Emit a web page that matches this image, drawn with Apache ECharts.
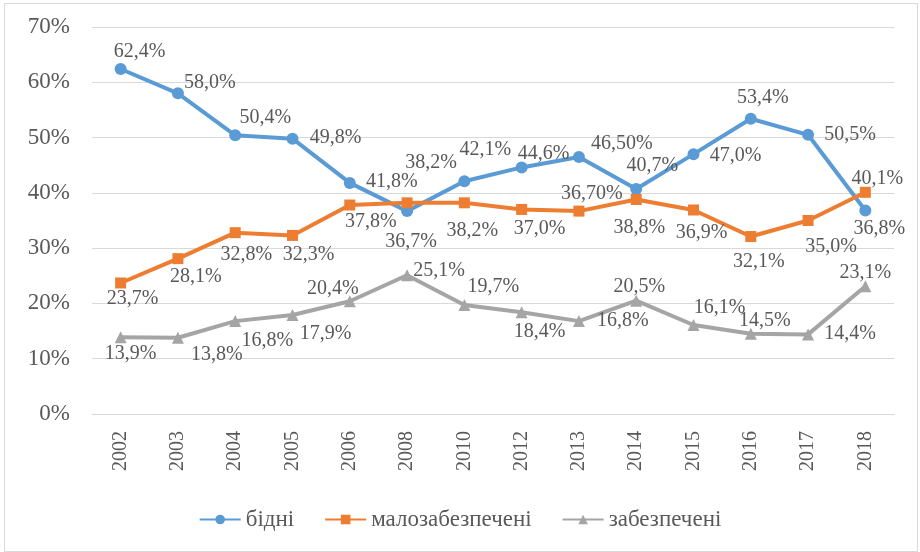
<!DOCTYPE html>
<html>
<head>
<meta charset="utf-8">
<script src="https://cdn.jsdelivr.net/npm/echarts@6/dist/echarts.min.js"></script>
<style>
  html, body { margin: 0; padding: 0; background: #fff; }
  #wrap { position: relative; width: 920px; height: 552px; }
  #chart { width: 920px; height: 552px; }
  #frame { position: absolute; left: 4px; top: 3px; width: 912px; height: 547px; border: 1px solid #d9d9d9; pointer-events: none; }
</style>
</head>
<body>
<div id="wrap">
  <div id="chart"></div>
  <div id="frame"></div>
</div>
<script>
// роки
var years = ['2002', '2003', '2004', '2005', '2006', '2008', '2010', '2012', '2013', '2014', '2015', '2016', '2017', '2018']

// частки, %
var poor = [62.4, 58.0, 50.4, 49.8, 41.8, 36.7, 42.1, 44.6, 46.5, 40.7, 47.0, 53.4, 50.5, 36.8]
var lowIncome = [23.7, 28.1, 32.8, 32.3, 37.8, 38.2, 38.2, 37.0, 36.7, 38.8, 36.9, 32.1, 35.0, 40.1]
var wellOff = [13.9, 13.8, 16.8, 17.9, 20.4, 25.1, 19.7, 18.4, 16.8, 20.5, 16.1, 14.5, 14.4, 23.1]

var seriesNames = ['бідні', 'малозабезпечені', 'забезпечені']
var yTicks = [0, 10, 20, 30, 40, 50, 60, 70]

// підписи з двома знаками (так у оригіналі)
var twoDecimals = { 'бідні': [8], 'малозабезпечені': [8] }

// зсув підпису від центру точки [dx, dy]
var labelShift = {
  'бідні': [[19, -17], [32, -11], [30, -18], [43, -1], [42, -1], [4, 31], [21, -31], [22, -14], [43, -13], [16, -23], [42, 2], [12, -21], [42, 0], [14, 18]],
  'малозабезпечені': [[12, 16], [18, 18], [11, 22], [16, 19], [21, 17], [24, -40], [8, 28], [18, 19], [13, -17], [3, 28], [8, 23], [8, 25], [23, 26], [12, -14]],
  'забезпечені': [[10, 17], [39, 17], [32, 20], [33, 19], [-17, -12], [32, -4], [29, -18], [18, 19], [44, 0], [3, -14], [26, -17], [14, -13], [42, -1], [0, -14]]
}

var font = '"Liberation Serif", "Times New Roman", serif'
var textColor = '#595959'

function fmt(v, digits) {
  return v.toFixed(digits).replace('.', ',') + '%'
}

function makeSeries(name, values, color, symbol, size) {
  var two = twoDecimals[name] || []
  return {
    name: name,
    type: 'line',
    data: values.map(function (v, i) {
      return {
        value: v,
        label: {
          offset: labelShift[name][i],
          formatter: fmt(v, two.indexOf(i) >= 0 ? 2 : 1)
        }
      }
    }),
    symbol: symbol,
    symbolSize: size,
    lineStyle: { color: color, width: 4 },
    itemStyle: { color: color },
    label: {
      show: true,
      position: 'inside',
      fontFamily: font,
      fontSize: 20,
      color: textColor
    },
    emphasis: { disabled: true },
    z: 3
  }
}

var myChart = echarts.init(document.getElementById('chart'))

var option = {
  animation: false,
  backgroundColor: '#fff',
  grid: { left: 92, top: 27, width: 802, height: 387 },
  legend: {
    bottom: 16,
    left: 'center',
    itemWidth: 41,
    itemHeight: 12,
    itemGap: 30,
    textStyle: { fontFamily: font, fontSize: 23, color: textColor },
    data: seriesNames
  },
  xAxis: {
    type: 'category',
    data: years,
    boundaryGap: true,
    axisLine: { lineStyle: { color: '#d9d9d9', width: 1 } },
    axisTick: { show: false },
    axisLabel: { rotate: 90, margin: 17, fontFamily: font, fontSize: 20, color: textColor }
  },
  yAxis: {
    type: 'value',
    min: yTicks[0],
    max: yTicks[yTicks.length - 1],
    interval: 10,
    axisLine: { show: false },
    axisTick: { show: false },
    splitLine: { lineStyle: { color: '#d9d9d9', width: 1 } },
    axisLabel: {
      margin: 22,
      fontFamily: font,
      fontSize: 23,
      color: textColor,
      formatter: function (v) { return v + '%' }
    }
  },
  series: [
    makeSeries(seriesNames[0], poor, '#5B9BD5', 'circle', 12),
    makeSeries(seriesNames[1], lowIncome, '#ED7D31', 'rect', 11),
    makeSeries(seriesNames[2], wellOff, '#A5A5A5', 'triangle', 12)
  ]
}

myChart.setOption(option)
</script>
</body>
</html>
